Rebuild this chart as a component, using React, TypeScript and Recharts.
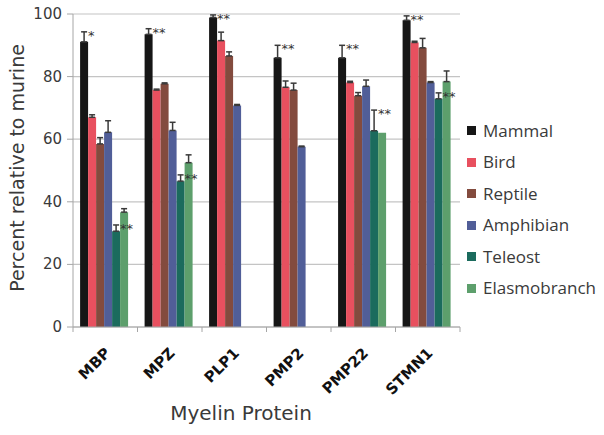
import React from 'react';
import { BarChart, Bar, XAxis, YAxis, CartesianGrid, ErrorBar, LabelList, Legend } from 'recharts';

const categories = ['MBP', 'MPZ', 'PLP1', 'PMP2', 'PMP22', 'STMN1'];
const seriesNames = ['Mammal', 'Bird', 'Reptile', 'Amphibian', 'Teleost', 'Elasmobranch'];
const seriesColors = ['#161616', '#e8505f', '#834b3e', '#515e98', '#1b6b5d', '#5d9f6c'];

const mammal = [91.1, 93.5, 98.9, 86.0, 86.0, 98.0];
const mammalErr = [3.2, 1.8, 0.8, 4.0, 4.0, 1.4];
const bird = [67.0, 75.7, 91.5, 76.6, 78.1, 90.9];
const birdErr = [0.8, 0.3, 2.7, 2.0, 0.4, 0.4];
const reptile = [58.5, 77.7, 86.6, 75.7, 73.9, 89.2];
const reptileErr = [2.0, 0.3, 1.3, 2.2, 1.0, 3.0];
const amphibian = [62.2, 62.8, 70.8, 57.6, 76.9, 78.1];
const amphibianErr = [3.7, 2.6, 0.3, 0.2, 2.0, 0.3];
const teleost = [30.6, 46.6, null, null, 62.7, 72.9];
const teleostErr = [2.0, 2.0, null, null, 6.6, 1.9];
const elasmobranch = [36.7, 52.5, null, null, 62.1, 78.4];
const elasmobranchErr = [1.1, 2.5, null, null, null, 3.4];

const mammalSig = ['*', '**', '**', '**', '**', '**'];
const teleostSig = ['**', '**', '', '', '**', '**'];

const yTicks = [0, 20, 40, 60, 80, 100];

const values = [mammal, bird, reptile, amphibian, teleost, elasmobranch];
const errors = [mammalErr, birdErr, reptileErr, amphibianErr, teleostErr, elasmobranchErr];

const data = categories.map((c, i) => {
  const row: any = { name: c };
  seriesNames.forEach((s, k) => {
    row[s] = values[k][i];
    const e = errors[k][i];
    row[s + 'Err'] = e ? [0, e] : undefined;
  });
  return row;
});

const AXIS_FONT = '"DejaVu Sans", sans-serif';
const TEXT_COLOR = '#3a3a3a';
const AXIS_COLOR = '#a6a6a6';

// host: values of the bar the label is attached to; target: the bar the star belongs to,
// shifted by `slotShift` bar slots to the left of the host bar.
const makeStar = (
  hostVals: (number | null)[],
  targetVals: (number | null)[],
  targetErrs: (number | null)[],
  sigs: string[],
  slotShift: number
) => (props: any) => {
  const { x, y, width, height, value } = props;
  const i = categories.indexOf(value);
  if (i < 0) return null;
  const sig = sigs[i];
  const hv = hostVals[i];
  const tv = targetVals[i];
  const e = targetErrs[i] || 0;
  if (!sig || hv == null || tv == null || !height) return null;
  const ppu = height / hv;
  const base = y + height;
  const top = base - (tv + e) * ppu;
  const cx = x - slotShift * width + width / 2;
  return (
    <text x={cx + 4} y={top + 8} fontSize={13} fill="#333" fontFamily={AXIS_FONT}>
      {sig}
    </text>
  );
};

const XTick = (props: any) => {
  const { x, y, payload, index } = props;
  const band = 387 / categories.length;
  return (
    <g>
      <line x1={x - band / 2} y1={y} x2={x - band / 2} y2={y + 5} stroke={AXIS_COLOR} />
      {index === categories.length - 1 && (
        <line x1={x + band / 2} y1={y} x2={x + band / 2} y2={y + 5} stroke={AXIS_COLOR} />
      )}
      <text
        transform={`translate(${x + 6},${y + 27}) rotate(-45)`}
        textAnchor="end"
        fontSize={15}
        fontWeight="bold"
        fontFamily={AXIS_FONT}
        fill="#111"
      >
        {payload.value}
      </text>
    </g>
  );
};

const YTick = (props: any) => {
  const { x, y, payload } = props;
  return (
    <text x={x} y={y} dy={5} textAnchor="end" fontSize={15} fontFamily={AXIS_FONT} fill={TEXT_COLOR}>
      {payload.value}
    </text>
  );
};

const LegendContent = () => (
  <div style={{ display: 'flex', flexDirection: 'column' }}>
    {seriesNames.map((s, k) => (
      <div key={s} style={{ height: 31.5, display: 'flex', alignItems: 'center' }}>
        <span style={{ width: 9, height: 9, background: seriesColors[k], display: 'inline-block', marginRight: 7 }} />
        <span style={{ fontFamily: '"Open Sans", sans-serif', fontSize: 17, color: TEXT_COLOR, lineHeight: '20px' }}>
          {s}
        </span>
      </div>
    ))}
  </div>
);

export default function App() {
  return (
    <div style={{ position: 'absolute', left: 0, top: 0, width: 604, height: 435, background: '#fff' }}>
      <BarChart
        width={604}
        height={435}
        data={data}
        margin={{ top: 14, right: 144, bottom: 0, left: 0 }}
        barCategoryGap="11%"
        barGap={0}
      >
        <CartesianGrid vertical={false} stroke="#c4c4c4" strokeWidth={1.2} />
        <XAxis
          dataKey="name"
          height={108}
          tickSize={0}
          tickMargin={0}
          tickLine={false}
          axisLine={{ stroke: AXIS_COLOR }}
          tick={<XTick />}
          interval={0}
          label={{
            content: () => (
              <text x={241} y={420} textAnchor="middle" fontSize={20} fontFamily={AXIS_FONT} fill={TEXT_COLOR}>
                Myelin Protein
              </text>
            ),
          }}
        />
        <YAxis
          width={73}
          domain={[0, 100]}
          ticks={yTicks}
          tickSize={6}
          tickMargin={5}
          axisLine={{ stroke: AXIS_COLOR }}
          tickLine={{ stroke: AXIS_COLOR }}
          tick={<YTick />}
          label={{
            content: () => (
              <text
                transform="translate(24,168) rotate(-90)"
                textAnchor="middle"
                fontSize={19}
                fontFamily={AXIS_FONT}
                fill={TEXT_COLOR}
              >
                Percent relative to murine
              </text>
            ),
          }}
        />
        <Legend
          layout="horizontal"
          verticalAlign="middle"
          align="center"
          content={<LegendContent />}
          wrapperStyle={{ left: 467, top: 115, width: 137 }}
        />
        {seriesNames.map((s, k) => (
          <Bar key={s} dataKey={s} name={s} fill={seriesColors[k]} isAnimationActive={false}>
            <ErrorBar dataKey={s + 'Err'} width={3} stroke="#3a3a3a" strokeWidth={1.5} direction="y" />
            {s === 'Mammal' && (
              <LabelList dataKey="name" content={makeStar(mammal, mammal, mammalErr, mammalSig, 0)} />
            )}
            {s === 'Elasmobranch' && (
              <LabelList
                dataKey="name"
                content={makeStar(elasmobranch, teleost, teleostErr, teleostSig, 1)}
              />
            )}
          </Bar>
        ))}
      </BarChart>
    </div>
  );
}
